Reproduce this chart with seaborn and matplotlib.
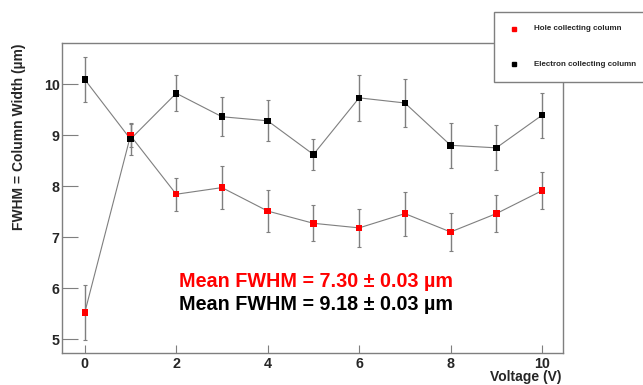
import numpy as np
import pandas as pd
import seaborn as sns
import matplotlib
matplotlib.use("Agg")
import matplotlib.pyplot as plt
from matplotlib.patches import Rectangle
from matplotlib.lines import Line2D
from matplotlib.ticker import MultipleLocator

voltage = [0, 1, 2, 3, 4, 5, 6, 7, 8, 9, 10]
hole_fwhm = [5.52, 8.99, 7.84, 7.97, 7.51, 7.27, 7.18, 7.46, 7.10, 7.46, 7.91]
hole_err = [0.54, 0.23, 0.32, 0.42, 0.41, 0.35, 0.37, 0.43, 0.37, 0.37, 0.36]
elec_fwhm = [10.09, 8.92, 9.82, 9.36, 9.28, 8.62, 9.73, 9.63, 8.80, 8.75, 9.39]
elec_err = [0.45, 0.31, 0.35, 0.38, 0.40, 0.31, 0.45, 0.47, 0.44, 0.44, 0.44]
series_names = ["Hole collecting column", "Electron collecting column"]
series_colors = ["#ff0000", "#000000"]
mean_texts = ["Mean FWHM = 7.30 \u00b1 0.03 \u00b5m", "Mean FWHM = 9.18 \u00b1 0.03 \u00b5m"]

sns.set_style("white")
plt.rcParams["font.family"] = ["Liberation Sans", "DejaVu Sans"]
plt.rcParams["font.weight"] = "bold"

df = pd.concat([
    pd.DataFrame({"Voltage": voltage, "FWHM": hole_fwhm, "err": hole_err, "series": series_names[0]}),
    pd.DataFrame({"Voltage": voltage, "FWHM": elec_fwhm, "err": elec_err, "series": series_names[1]}),
])

W, H = 643, 385
fig = plt.figure(figsize=(6.43, 3.85), dpi=100)
ax = fig.add_axes([0.097, 0.0823, 0.778, 0.8052])

grey = "#7f7f7f"
for name, color in zip(series_names, series_colors):
    sub = df[df["series"] == name]
    ax.errorbar(sub["Voltage"], sub["FWHM"], yerr=sub["err"], fmt="none",
                ecolor=grey, elinewidth=1.0, capsize=1.5, capthick=0.8, zorder=2)
sns.lineplot(data=df, x="Voltage", y="FWHM", hue="series", palette=[grey, grey],
             estimator=None, sort=False, linewidth=0.8, legend=False, ax=ax, zorder=3)
sns.scatterplot(data=df, x="Voltage", y="FWHM", hue="series", palette=series_colors,
                marker="s", s=22, linewidth=0, legend=False, ax=ax, zorder=4)

ax.set_xlim(-0.49, 10.45)
ax.set_ylim(4.72, 10.80)
ax.xaxis.set_major_locator(MultipleLocator(2))
ax.xaxis.set_minor_locator(MultipleLocator(0.5))
ax.yaxis.set_major_locator(MultipleLocator(1))
ax.yaxis.set_minor_locator(MultipleLocator(0.2))
ax.tick_params(axis="y", which="major", direction="in", length=11.5, width=0.8, color=grey,
               labelsize=10.3, pad=2)
ax.tick_params(axis="y", which="minor", direction="in", length=5.8, width=0.8, color=grey)
ax.tick_params(axis="x", which="major", direction="in", length=5.8, width=0.8, color=grey,
               labelsize=10.3, pad=3)
ax.tick_params(axis="x", which="minor", direction="in", length=2.9, width=0.8, color=grey)
ax.tick_params(left=True, bottom=True, top=False, right=False)
for lab in ax.get_xticklabels() + ax.get_yticklabels():
    lab.set_fontweight("bold")
for sp in ax.spines.values():
    sp.set_color(grey)
    sp.set_linewidth(1.0)
    sp.set_visible(True)

ax.set_xlabel("")
ax.set_ylabel("")
fig.text(562 / W, 1 - 384.5 / H, "Voltage (V)", fontsize=10, fontweight="bold",
         ha="right", va="bottom")
fig.text(19 / W, 1 - 43 / H, "FWHM = Column Width (\u00b5m)", fontsize=10,
         fontweight="bold", rotation=90, ha="center", va="top")

ax.text(0.2325, 0.231, mean_texts[0], transform=ax.transAxes, color=series_colors[0],
        fontsize=14.2, fontweight="bold", va="center", ha="left")
ax.text(0.2325, 0.157, mean_texts[1], transform=ax.transAxes, color=series_colors[1],
        fontsize=14.2, fontweight="bold", va="center", ha="left")

# legend box (extends beyond the right edge, as in the reference)
fig.patches.append(Rectangle((494 / W, 1 - 82 / H), 200 / W, 70 / H, transform=fig.transFigure,
                             facecolor="white", edgecolor=grey, linewidth=1.0, zorder=10,
                             clip_on=False))
for i, (name, color) in enumerate(zip(series_names, series_colors)):
    yy = 1 - (29 + 35 * i) / H
    fig.lines.append(Line2D([514 / W], [yy], transform=fig.transFigure, marker="s",
                            markersize=3.5, color=color, linestyle="none", zorder=11))
    fig.text(534 / W, yy, name, fontsize=5.8, fontweight="bold", va="center", ha="left",
             zorder=11)

fig.savefig("out.png", dpi=100, facecolor="white")
